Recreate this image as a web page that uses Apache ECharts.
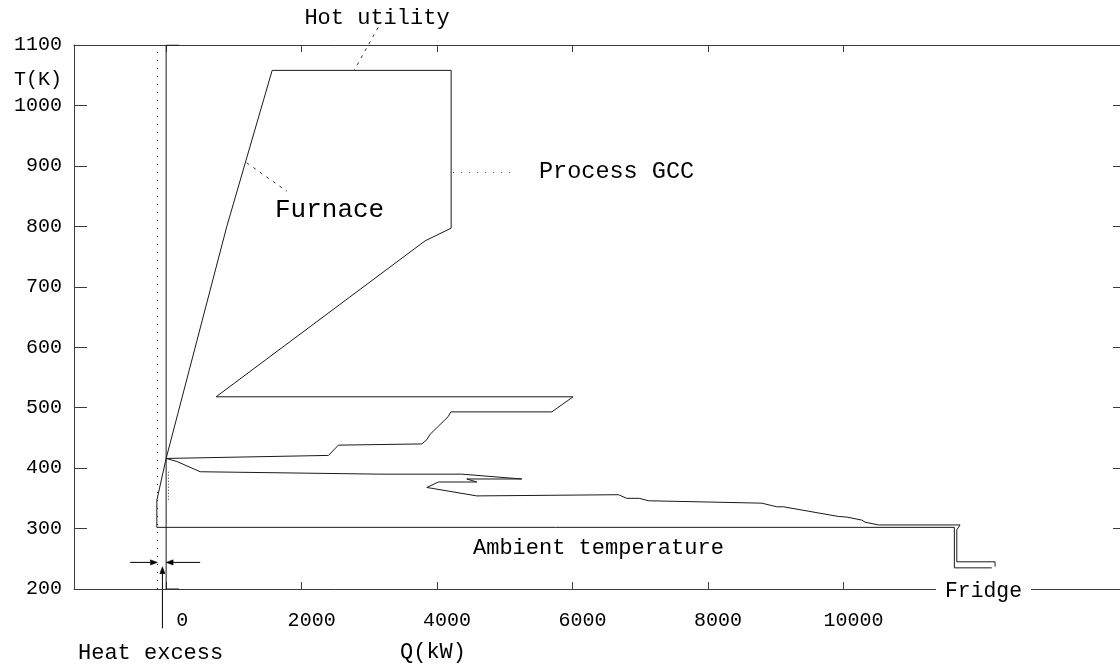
<!DOCTYPE html>
<html>
<head>
<meta charset="utf-8">
<script src="https://cdn.jsdelivr.net/npm/echarts@6/dist/echarts.min.js"></script>
<style>
  html, body { margin: 0; padding: 0; background: #fff; }
  #chart { width: 1120px; height: 670px; }
</style>
</head>
<body>
<div id="chart"></div>
<script>
// Grand composite curve of the process with furnace, ambient and fridge levels
const FONT = '"Liberation Mono", "Courier New", monospace';

const xTicks = [0, 2000, 4000, 6000, 8000, 10000];
const yTicks = [200, 300, 400, 500, 600, 700, 800, 900, 1000, 1100];

// [Q (kW), T (K)]
const furnace = [[1565, 1058], [896, 800], [0, 416], [-137, 347]];

const processGCC = [
  [1565, 1058], [4207, 1058], [4207, 797], [3823, 776], [738, 518],
  [6007, 518], [5693, 493], [4202, 493], [4162, 485], [3897, 456],
  [3848, 447], [3774, 440], [2543, 438], [2396, 421], [0, 416],
  [158, 411], [502, 394], [3159, 390], [4365, 390], [5250, 382],
  [4438, 382], [4586, 377], [4019, 377], [3848, 368], [4586, 354],
  [6676, 356], [6800, 350], [6986, 350], [7119, 346], [8793, 342],
  [9014, 336], [9111, 336], [9923, 320], [10047, 319], [10269, 314],
  [10317, 310.5], [10514, 306], [11719, 306], [11671, 298], [11671, 245],
  [12236, 245], [12236, 237]
];

const ambient = [[-137, 347], [-137, 302], [11635, 302], [11635, 235], [12187, 235]];

const zeroLine = [[190, 1100], [0, 1100], [0, 200], [190, 200]];
const excessLine = [[-128, 200], [-128, 1100]];
const excessMark = [[34, 394], [34, 347]];

// annotation anchors in data space
const hotLeader = [[3129, 1129], [2775, 1058]];
const furnaceLeader = [[1191, 905], [1782, 858]];
const gccLeader = [[4236, 889], [5077, 889]];
const arrowLeft = [[-531, 244], [-128, 244]];
const arrowRight = [[502, 244], [0, 244]];
const arrowUp = [[-55, 135], [-55, 237]];

const chart = echarts.init(document.getElementById('chart'), null, { renderer: 'canvas' });

const lineSeries = (data, extra) => Object.assign({
  type: 'line',
  data: data,
  showSymbol: false,
  symbol: 'none',
  silent: true,
  animation: false,
  lineStyle: { color: '#1a1a1a', width: 1 }
}, extra || {});

const AXIS_COLOR = '#3a3a3a';

chart.setOption({
  animation: false,
  backgroundColor: '#fff',
  grid: { left: 74, right: 0, top: 45, bottom: 81 },
  xAxis: [
    {
      type: 'value', min: -1360, max: 14080, position: 'bottom',
      axisLine: { show: true, onZero: false, lineStyle: { color: AXIS_COLOR, width: 1 } },
      axisTick: { show: true, inside: true, length: 7, customValues: xTicks, lineStyle: { color: AXIS_COLOR } },
      axisLabel: {
        customValues: xTicks, margin: 22, color: '#000', fontFamily: FONT, fontSize: 20,
        formatter: v => (v === 0 ? '{z|0}' : '{n|' + v + '}'),
        rich: {
          z: { padding: [0, 0, 0, 32], fontFamily: FONT, fontSize: 20, color: '#000' },
          n: { padding: [0, 0, 0, 20], fontFamily: FONT, fontSize: 20, color: '#000' }
        }
      },
      splitLine: { show: false }
    },
    {
      type: 'value', min: -1360, max: 14080, position: 'top',
      axisLine: { show: true, onZero: false, lineStyle: { color: AXIS_COLOR, width: 1 } },
      axisTick: { show: true, inside: true, length: 7, customValues: xTicks, lineStyle: { color: AXIS_COLOR } },
      axisLabel: { show: false },
      splitLine: { show: false }
    }
  ],
  yAxis: [
    {
      type: 'value', min: 200, max: 1100, interval: 100, position: 'left',
      axisLine: { show: true, onZero: false, lineStyle: { color: AXIS_COLOR, width: 1 } },
      axisTick: { show: true, inside: true, length: 13, lineStyle: { color: AXIS_COLOR } },
      axisLabel: {
        margin: 12, color: '#000', fontFamily: FONT, fontSize: 20,
        formatter: v => (yTicks.indexOf(v) >= 0 ? String(v) : '')
      },
      splitLine: { show: false }
    },
    {
      type: 'value', min: 200, max: 1100, interval: 100, position: 'right',
      axisLine: { show: false, onZero: false },
      axisTick: { show: true, inside: true, length: 7, lineStyle: { color: AXIS_COLOR } },
      axisLabel: { show: false },
      splitLine: { show: false }
    }
  ],
  series: [
    lineSeries(zeroLine, { lineStyle: { color: '#1a1a1a', width: 1 } }),
    lineSeries(excessLine, { lineStyle: { color: '#333', width: 1, type: [1, 7] } }),
    lineSeries(excessMark, { lineStyle: { color: '#333', width: 1, type: [1, 2] } }),
    lineSeries(furnace),
    lineSeries(ambient),
    lineSeries(processGCC)
  ]
});

// annotations: leaders, arrows and text
const px = p => chart.convertToPixel({ xAxisIndex: 0, yAxisIndex: 0 }, p);

function leader(pair, dash) {
  return {
    type: 'polyline', silent: true,
    shape: { points: pair.map(px) },
    style: { stroke: '#333', lineWidth: 1, lineDash: dash, fill: null }
  };
}

function arrow(pair) {
  const a = px(pair[0]), b = px(pair[1]);
  const dx = b[0] - a[0], dy = b[1] - a[1];
  const len = Math.hypot(dx, dy), ux = dx / len, uy = dy / len;
  const hl = 7, hw = 2.6;
  const bx = b[0] - ux * hl, by = b[1] - uy * hl;
  return [
    { type: 'line', silent: true, shape: { x1: a[0], y1: a[1], x2: bx, y2: by },
      style: { stroke: '#000', lineWidth: 1 } },
    { type: 'polygon', silent: true,
      shape: { points: [b, [bx - uy * hw, by + ux * hw], [bx + uy * hw, by - ux * hw]] },
      style: { fill: '#000', stroke: '#000', lineWidth: 0.5 } }
  ];
}

function label(text, x, y, size, align, bg) {
  return {
    type: 'text', silent: true, x: x, y: y, z: 10,
    style: {
      text: text, fontFamily: FONT, fontSize: size, fill: '#000',
      textAlign: align || 'left', textVerticalAlign: 'middle',
      backgroundColor: bg || null, padding: bg ? [0, 9, 0, 9] : 0
    }
  };
}

chart.setOption({
  graphic: [
    leader(hotLeader, [3, 5]),
    leader(furnaceLeader, [3, 5]),
    leader(gccLeader, [1, 7]),
    ...arrow(arrowLeft),
    ...arrow(arrowRight),
    ...arrow(arrowUp),
    label('Hot utility', 377, 18, 22, 'center'),
    label('Furnace', 275, 210, 26),
    label('Process GCC', 539, 172, 23.5),
    label('Ambient temperature', 473, 548, 22),
    label('Fridge', 936, 591, 21.4, 'left', '#fff'),
    label('Q(kW)', 400, 652, 22),
    label('Heat excess', 78, 653, 22),
    label('T(K)', 62, 80, 20, 'right')
  ]
});
</script>
</body>
</html>
